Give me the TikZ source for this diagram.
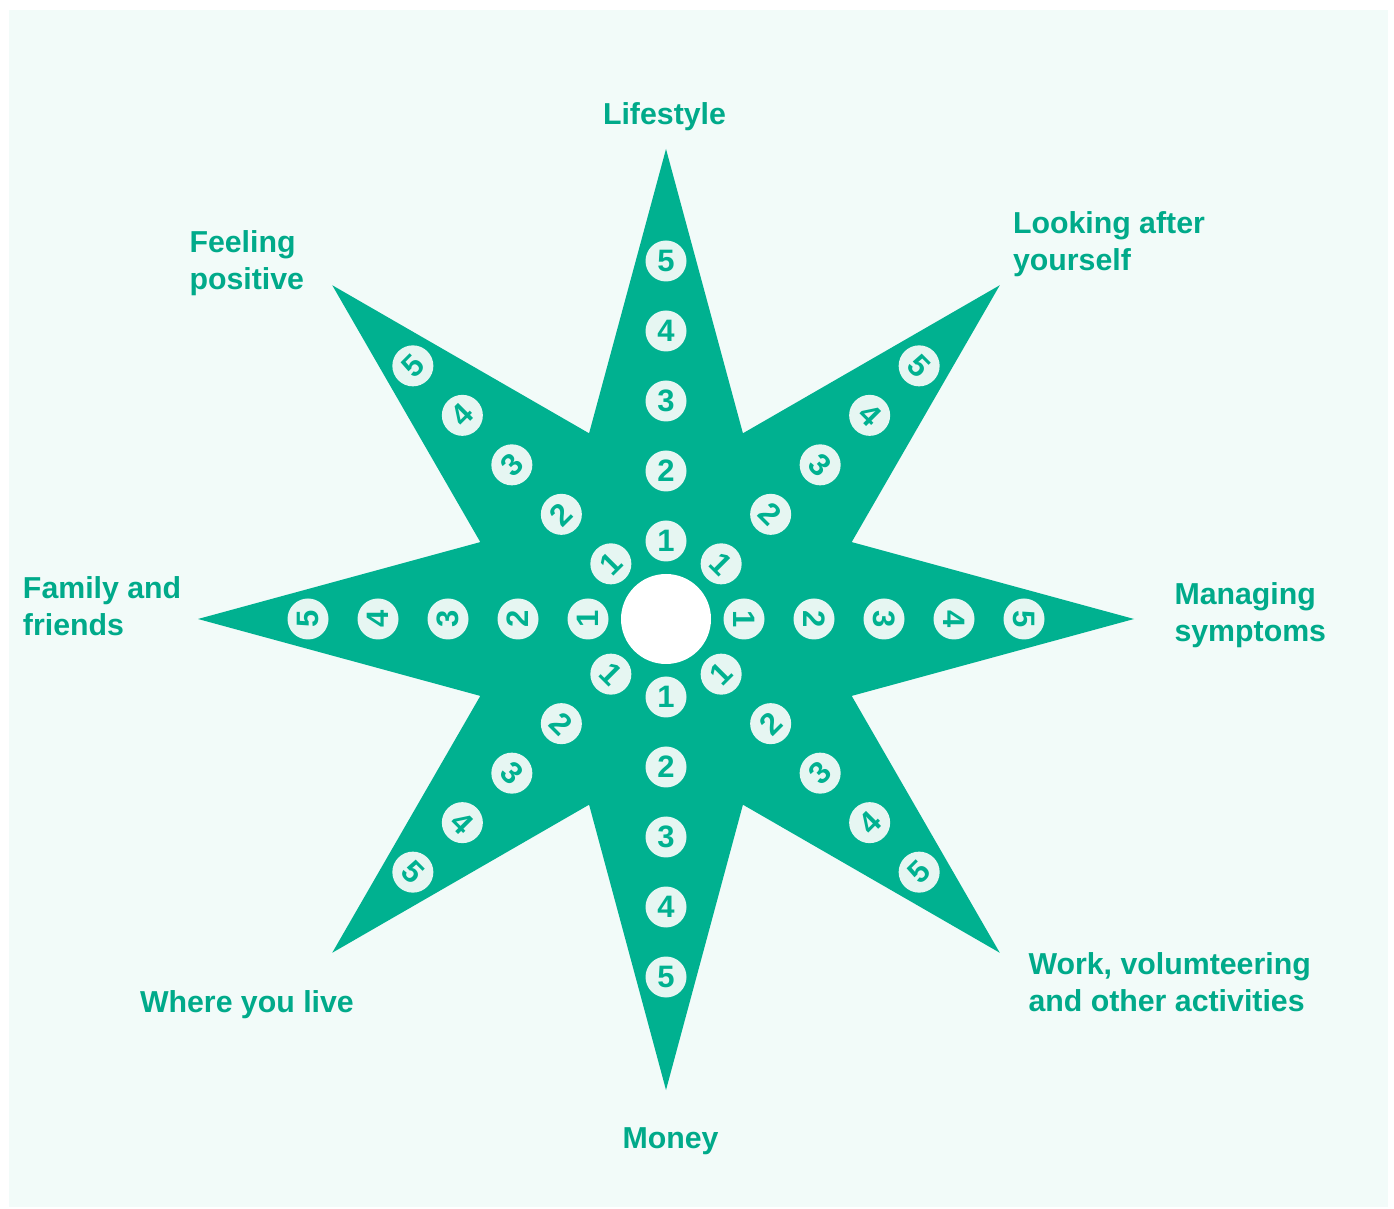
\documentclass[tikz,border=0pt]{standalone}
\usepackage{fontspec}
\setmainfont{Liberation Sans}
\definecolor{stargreen}{RGB}{0,177,144}
\definecolor{textgreen}{RGB}{0,170,138}
\definecolor{circfill}{RGB}{230,246,242}
\definecolor{bgmint}{RGB}{242,251,249}
\tikzset{
  lbl/.style={inner sep=0pt, outer sep=0pt, align=left, text=textgreen,
    font=\fontsize{30.3}{37}\selectfont\bfseries},
  numc/.style={circle, fill=circfill, inner sep=0pt, minimum size=41pt,
    text=stargreen, font=\fontsize{31}{32}\selectfont\bfseries},
  hub/.style={circle, fill=white, inner sep=0pt, minimum size=90pt},
}
\begin{document}
\begin{tikzpicture}[x=1pt,y=1pt]
\useasboundingbox (0,0) rectangle (1394,1208);
\fill[white] (0,0) rectangle (1394,1208);
\fill[bgmint] (9,1) rectangle (1388,1198);
\begin{scope}[shift={(666,589)}]
  \fill[stargreen] (90:470) -- (67.5:201) -- (45:472) -- (22.5:201) -- (0:468)
    -- (-22.5:201) -- (-45:472) -- (-67.5:201) -- (-90:471) -- (-112.5:201)
    -- (-135:472) -- (-157.5:201) -- (180:468) -- (157.5:201) -- (135:472)
    -- (112.5:201) -- cycle;
  \node[hub] (hub) at (0,0) {};
  \foreach \a/\r/\nm in {90/0/N, 45/-45/NE, 0/-90/E, -45/45/SE, -90/0/S, -135/-45/SW, 180/90/W, 135/45/NW}{
    \foreach \k in {1,...,5}{
      \node[numc, rotate=\r] (n\nm\k) at (\a:{8+70*\k}) {\k};
    }
  }
\end{scope}
\node[lbl, anchor=north] (lifestyle) at (664.5,1105) {Lifestyle};
\node[lbl, anchor=north west] (looking) at (1013,996.5) {Looking after\\yourself};
\node[lbl, anchor=north west] (managing) at (1174.5,625) {Managing\\symptoms};
\node[lbl, anchor=north west] (work) at (1028.5,255) {Work, volumteering\\and other activities};
\node[lbl, anchor=north] (money) at (670.5,80.5) {Money};
\node[lbl, anchor=north west] (where) at (140,217.5) {Where you live};
\node[lbl, anchor=north west] (family) at (23,631.5) {Family and\\friends};
\node[lbl, anchor=north west] (feeling) at (189.5,977) {Feeling\\positive};
\end{tikzpicture}
\end{document}
